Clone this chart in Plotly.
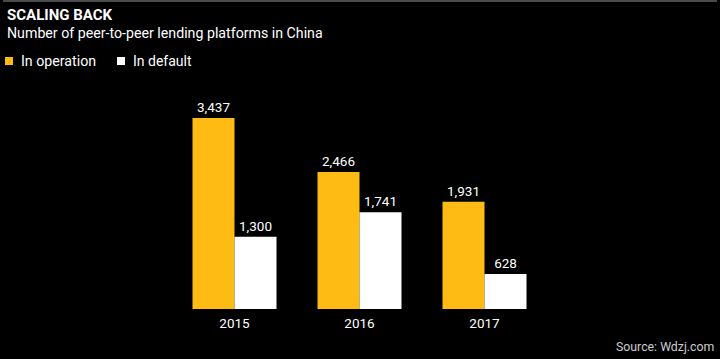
import plotly.graph_objects as go

years = ["2015", "2016", "2017"]
in_operation = [3437, 2466, 1931]
in_default = [1300, 1741, 628]

YELLOW = "#FDBB13"
WHITE = "#FFFFFF"
FONT = "Roboto"

W, H = 720, 359
L, R, T, B = 172, 173, 98, 50
PW = W - L - R
PH = H - T - B


def px_x(p):
    return (p - L) / PW


def px_y(p):
    return 1 - (p - T) / PH


fig = go.Figure()
for name, vals, col in [("In operation", in_operation, YELLOW), ("In default", in_default, WHITE)]:
    fig.add_trace(go.Bar(
        x=years, y=vals, name=name, marker=dict(color=col, line=dict(width=0)),
        text=[f"{v:,}" for v in vals], textposition="outside", cliponaxis=False,
        textfont=dict(color="white", size=13.5, family=FONT),
        showlegend=False,
    ))

fig.update_layout(
    width=W, height=H,
    paper_bgcolor="black", plot_bgcolor="black",
    margin=dict(l=L, r=R, t=T, b=B, pad=0),
    barmode="group", bargap=0.328, bargroupgap=0,
    font=dict(family=FONT, color="white"),
    xaxis=dict(type="category", range=[-0.5, 2.5], showgrid=False, zeroline=False,
               showline=False, ticks="", ticklabelstandoff=4,
               tickfont=dict(size=13.5, color="white", family=FONT)),
    yaxis=dict(range=[0, 3797], visible=False, showgrid=False, zeroline=False),
)

annotations = [
    dict(text="<b>SCALING BACK</b>", x=px_x(5), y=px_y(15), xanchor="left", yanchor="middle",
         font=dict(size=15, color="white", family=FONT)),
    dict(text="Number of peer-to-peer lending platforms in China", x=px_x(5), y=px_y(33),
         xanchor="left", yanchor="middle", font=dict(size=14.2, color="white", family=FONT)),
    dict(text="In operation", x=px_x(19), y=px_y(61), xanchor="left", yanchor="middle",
         font=dict(size=14.2, color="white", family=FONT)),
    dict(text="In default", x=px_x(131), y=px_y(61), xanchor="left", yanchor="middle",
         font=dict(size=14, color="white", family=FONT)),
    dict(text="Source: Wdzj.com", x=px_x(716), y=px_y(347), xanchor="right", yanchor="middle",
         font=dict(size=12.3, color="#cccccc", family=FONT)),
]
for a in annotations:
    a.update(xref="paper", yref="paper", showarrow=False)
fig.update_layout(annotations=annotations)

shapes = [
    dict(type="line", x0=px_x(3), x1=px_x(717), y0=px_y(1), y1=px_y(1),
         line=dict(color="#4a4a4a", width=2)),
    dict(type="rect", x0=px_x(5), x1=px_x(13), y0=px_y(65), y1=px_y(57),
         fillcolor=YELLOW, line=dict(width=0)),
    dict(type="rect", x0=px_x(117), x1=px_x(125), y0=px_y(65), y1=px_y(57),
         fillcolor=WHITE, line=dict(width=0)),
]
for s in shapes:
    s.update(xref="paper", yref="paper")
fig.update_layout(shapes=shapes)

fig.write_html("out.html", config={"displayModeBar": False},
               post_script="document.body.style.margin='0';document.body.style.overflow='hidden';")
